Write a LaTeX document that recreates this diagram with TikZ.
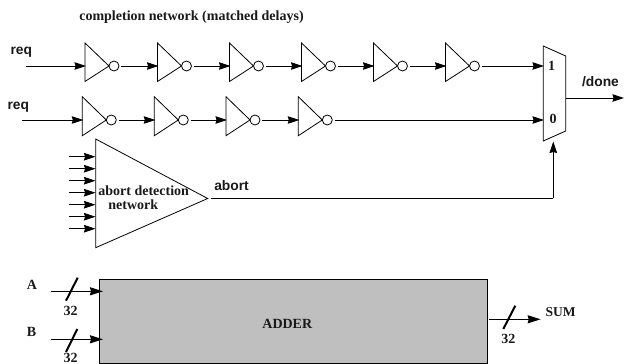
\documentclass[tikz,border=0pt]{standalone}
\usepackage{fontspec}
\setmainfont{Liberation Serif}
\newfontfamily\sanslab{Liberation Sans}
\usetikzlibrary{arrows.meta}
\tikzset{
  wire/.style={line width=0.9pt,-{Stealth[length=11.5pt,width=7.5pt,inset=1pt]}},
  plainwire/.style={line width=0.9pt},
  busw/.style={line width=1.3pt,-{Stealth[length=13pt,width=8pt,inset=1pt]}},
  slashm/.style={line width=2pt},
  gate/.style={line width=0.8pt,line join=miter},
  bubble/.style={circle,draw,line width=0.8pt,inner sep=0pt,minimum size=10pt,fill=white},
  serlab/.style={font=\bfseries\fontsize{14}{16}\selectfont,inner sep=0pt,text=black!90},
  sanlab/.style={font=\sanslab\bfseries\fontsize{13.8}{16}\selectfont,inner sep=0pt,text=black!90},
  adderbox/.style={draw,line width=0.9pt,fill=black!25,inner sep=0pt,minimum width=388pt,minimum height=83.7pt},
}
% \invg{name}{left x}{top y}{tip y}{bottom y}
\newcommand{\invg}[5]{%
  \draw[gate] (#2,#3) -- (#2+24,#4) -- (#2,#5) -- cycle;
  \coordinate (#1-in) at (#2+1,#4);
  \node[bubble] (#1-b) at (#2+29,#4) {};
}
\begin{document}
\begin{tikzpicture}[x=1pt,y=-1pt]
\useasboundingbox (0,0) rectangle (624,364);
% top row
\coordinate (r1) at (25.7,66);
\invg{a1}{85}{43}{66}{81.5}
\invg{a2}{157.5}{43}{66}{81.5}
\invg{a3}{229.5}{43}{66}{81.5}
\invg{a4}{301.5}{43}{66}{81.5}
\invg{a5}{373.5}{43}{66}{81.5}
\invg{a6}{445.5}{43}{66}{81.5}
\draw[wire] (r1) -- (a1-in);
\draw[wire,shorten <=2pt] (a1-b) -- (a2-in);
\draw[wire,shorten <=2pt] (a2-b) -- (a3-in);
\draw[wire,shorten <=2pt] (a3-b) -- (a4-in);
\draw[wire,shorten <=2pt] (a4-b) -- (a5-in);
\draw[wire,shorten <=2pt] (a5-b) -- (a6-in);
% second row
\coordinate (r2) at (22.3,120);
\invg{c1}{82.3}{96.7}{120}{135.7}
\invg{c2}{154.3}{96.7}{120}{135.7}
\invg{c3}{226}{96.7}{120}{135.7}
\invg{c4}{298.3}{96.7}{120}{135.7}
\draw[wire] (r2) -- (c1-in);
\draw[wire,shorten <=2pt] (c1-b) -- (c2-in);
\draw[wire,shorten <=2pt] (c2-b) -- (c3-in);
\draw[wire,shorten <=2pt] (c3-b) -- (c4-in);
% mux
\draw[gate] (543.3,46) -- (565.7,56) -- (565.7,131) -- (543.3,141) -- cycle;
\coordinate (m1) at (544,66);
\coordinate (m0) at (544,120);
\coordinate (ms) at (553.3,141.5);
\coordinate (mo) at (565.7,98);
\coordinate (done) at (624,98);
\draw[wire,shorten <=2pt] (a6-b) -- (m1);
\draw[wire,shorten <=2pt] (c4-b) -- (m0);
\draw[wire] (mo) -- (done);
\node[serlab] (l1) at (551.7,65.5) {1};
\node[serlab] (l0) at (553,118.5) {0};
% abort detection
\draw[gate] (95.7,139) -- (207.7,198.5) -- (95.7,247.7) -- cycle;
\foreach \i/\y in {1/156.7,2/168.7,3/180.7,4/192.7,5/204.7,6/216.7,7/228.7}{
  \coordinate (s\i) at (69.3,\y);
  \coordinate (t\i) at (95.5,\y);
  \draw[wire] (s\i) -- (t\i);
}
\coordinate (ab) at (210.7,198);
\coordinate (abc) at (553.3,198);
\draw[plainwire] (ab) -- (abc);
\draw[wire] (abc) -- (ms);
% adder
\node[adderbox,anchor=north west] (add) at (99.3,279.3) {};
\node[serlab] (addl) at (287.3,324.3) {ADDER};
\coordinate (ai) at (51,291.3);
\coordinate (at) at (103,291.3);
\coordinate (bi) at (51,339.3);
\coordinate (bt) at (103,339.3);
\coordinate (so) at (489.3,319.3);
\coordinate (st) at (540.7,319.3);
\draw[busw] (ai) -- (at);
\draw[busw] (bi) -- (bt);
\draw[busw] (so) -- (st);
\coordinate (sa1) at (66,300.7); \coordinate (sa2) at (77.7,277.7);
\coordinate (sb1) at (66,352); \coordinate (sb2) at (77.3,329);
\coordinate (sc1) at (503.3,329); \coordinate (sc2) at (515.3,305.7);
\draw[slashm] (sa1) -- (sa2);
\draw[slashm] (sb1) -- (sb2);
\draw[slashm] (sc1) -- (sc2);
% labels
\node[serlab] (tt) at (191.5,17.5) {completion network (matched delays)};
\node[sanlab] (q1) at (21.3,52.5) {req};
\node[sanlab] (q2) at (18.3,107) {req};
\node[sanlab] (dn) at (600.5,82) {/done};
\node[sanlab] (abl) at (231.5,185.5) {abort};
\node[serlab] (ad1) at (143.7,190.5) {abort detection};
\node[serlab] (ad2) at (133.3,204.5) {network};
\node[serlab] (la) at (32,285) {A};
\node[serlab] (lb) at (31.5,332) {B};
\node[serlab] (n1) at (70.7,311) {32};
\node[serlab] (n2) at (70.7,357.5) {32};
\node[serlab] (n3) at (508.3,339.3) {32};
\node[serlab,font=\bfseries\fontsize{13.5}{16}\selectfont] (ls) at (560.5,311.7) {SUM};
\end{tikzpicture}
\end{document}
